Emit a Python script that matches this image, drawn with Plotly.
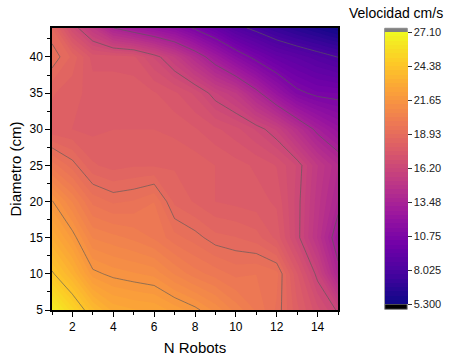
import plotly.graph_objects as go

# Grid of measurements: number of robots vs. object diameter
n_robots = [1, 2, 3, 4, 5, 6, 7, 8, 9, 10, 11, 12, 13, 14, 15]
diametro = [5, 10, 15, 20, 25, 30, 35, 40, 44]

# Velocity (cm/s), one row per diameter, one column per robot count
vel_d5 = [26.6, 25.2, 23.8, 22.9, 22.7, 22.6, 22.2, 21.8, 21.2, 20.5, 19.9, 19.2, 18.0, 17.0, 16.1]
vel_d10 = [24.5, 23.3, 21.8, 21.5, 21.35, 21.2, 20.6, 20.1, 19.8, 19.5, 19.6, 19.4, 17.6, 16.0, 13.8]
vel_d15 = [23.0, 21.9, 20.6, 20.4, 20.2, 19.9, 19.4, 19.1, 18.7, 18.6, 18.4, 17.8, 16.4, 14.8, 12.9]
vel_d20 = [21.7, 20.6, 19.5, 19.2, 19.3, 19.6, 18.5, 18.2, 17.9, 17.8, 17.7, 17.5, 16.4, 15.0, 13.8]
vel_d25 = [19.8, 19.1, 18.3, 18.1, 18.2, 18.2, 18.2, 18.1, 17.9, 17.7, 17.5, 17.2, 16.5, 15.2, 14.2]
vel_d30 = [18.0, 17.9, 17.8, 17.9, 17.9, 17.9, 17.8, 17.6, 17.3, 17.0, 16.5, 15.8, 14.5, 13.2, 12.3]
vel_d35 = [18.3, 18.0, 17.8, 17.8, 17.8, 17.6, 17.3, 16.8, 15.9, 15.2, 13.8, 12.3, 11.0, 10.5, 10.4]
vel_d40 = [19.2, 18.5, 17.4, 17.4, 17.3, 16.5, 15.5, 14.2, 12.8, 11.5, 10.4, 9.5, 9.0, 8.5, 8.0]
vel_d44 = [18.6, 16.6, 15.2, 13.5, 12.8, 12.2, 11.6, 10.6, 9.6, 8.4, 7.7, 7.0, 6.4, 5.9, 5.4]

velocidad = [vel_d5, vel_d10, vel_d15, vel_d20, vel_d25, vel_d30, vel_d35, vel_d40, vel_d44]

# Colour scale limits and labelled levels
z_min, z_max = 5.3, 27.1
level_step = 2.725
bar_ticks = [5.3, 8.025, 10.75, 13.475, 16.2, 18.925, 21.65, 24.375, 27.1]
bar_labels = ["5.300", "8.025", "10.75", "13.48", "16.20", "18.93", "21.65", "24.38", "27.10"]

FONT = "Arial, Liberation Sans, sans-serif"

# plot area in pixels
L, R, T, B = 52, 344, 28, 310
W, H = 453, 356


def px_x(p):
    return (p - L) / (R - L)


def px_y(p):
    return (B - p) / (B - T)


fig = go.Figure()

# filled bands
fig.add_trace(go.Contour(
    x=n_robots, y=diametro, z=velocidad,
    colorscale="Plasma", zmin=z_min, zmax=z_max,
    autocontour=False,
    contours=dict(start=z_min, end=z_max, size=level_step / 8,
                  coloring="fill", showlines=False),
    line=dict(width=0, smoothing=0),
    colorbar=dict(
        x=px_x(391.7), xanchor="left", xpad=0,
        thickness=23,
        len=(304.3 - 32.3) / (B - T), lenmode="fraction",
        y=px_y((32.3 + 304.3) / 2), yanchor="middle", ypad=0,
        outlinewidth=0,
        tickmode="array", tickvals=bar_ticks, ticktext=bar_labels,
        ticks="outside", ticklen=4, tickcolor="#333", tickwidth=1,
        tickfont=dict(family=FONT, size=11, color="#222"),
    ),
    hoverinfo="skip",
))

# gray contour lines at the labelled levels
fig.add_trace(go.Contour(
    x=n_robots, y=diametro, z=velocidad,
    autocontour=False,
    contours=dict(start=z_min + level_step, end=z_max - level_step / 2,
                  size=level_step, coloring="none", showlines=True),
    line=dict(color="rgba(90,90,90,0.8)", width=0.8, smoothing=0),
    showscale=False,
    hoverinfo="skip",
))

axis_common = dict(
    showline=True, linecolor="black", linewidth=1.5, mirror=True,
    ticks="outside", ticklen=5, tickwidth=1, tickcolor="black",
    showgrid=False, zeroline=False, automargin=False,
    tickfont=dict(family=FONT, size=12, color="black"),
)

fig.update_xaxes(
    range=[1, 15], tickvals=[2, 4, 6, 8, 10, 12, 14],
    minor=dict(tickvals=[1, 3, 5, 7, 9, 11, 13, 15], ticklen=3, ticks="outside",
               tickcolor="black"),
    title=dict(text="N Robots", font=dict(family=FONT, size=15, color="black"),
               standoff=11),
    **axis_common,
)
fig.update_yaxes(
    range=[5, 44], tickvals=[5, 10, 15, 20, 25, 30, 35, 40],
    minor=dict(tickvals=[7.5, 12.5, 17.5, 22.5, 27.5, 32.5, 37.5, 42.5], ticklen=3,
               ticks="outside", tickcolor="black"),
    title=dict(text="Diametro (cm)", font=dict(family=FONT, size=15, color="black"),
               standoff=4),
    **axis_common,
)

# colour bar caps (above max / below min) and frame
bx0, bx1 = px_x(391.7), px_x(414.7)
fig.add_shape(type="rect", xref="paper", yref="paper",
              x0=bx0, x1=bx1, y0=px_y(32.3), y1=px_y(28.3),
              fillcolor="#808080", line=dict(width=0))
fig.add_shape(type="rect", xref="paper", yref="paper",
              x0=bx0, x1=bx1, y0=px_y(309.3), y1=px_y(304.3),
              fillcolor="black", line=dict(width=0))
fig.add_shape(type="rect", xref="paper", yref="paper",
              x0=bx0, x1=bx1, y0=px_y(309.3), y1=px_y(28.3),
              fillcolor="rgba(0,0,0,0)", line=dict(color="#888", width=1))

fig.add_annotation(text="Velocidad cm/s", xref="paper", yref="paper",
                   x=px_x(403), y=px_y(13), xanchor="center", yanchor="middle",
                   showarrow=False,
                   font=dict(family=FONT, size=14, color="black"))

fig.update_layout(
    width=W, height=H,
    margin=dict(l=L, r=W - R, t=T, b=H - B, pad=0),
    paper_bgcolor="white", plot_bgcolor="white",
    showlegend=False,
)

fig.write_html("out.html")
